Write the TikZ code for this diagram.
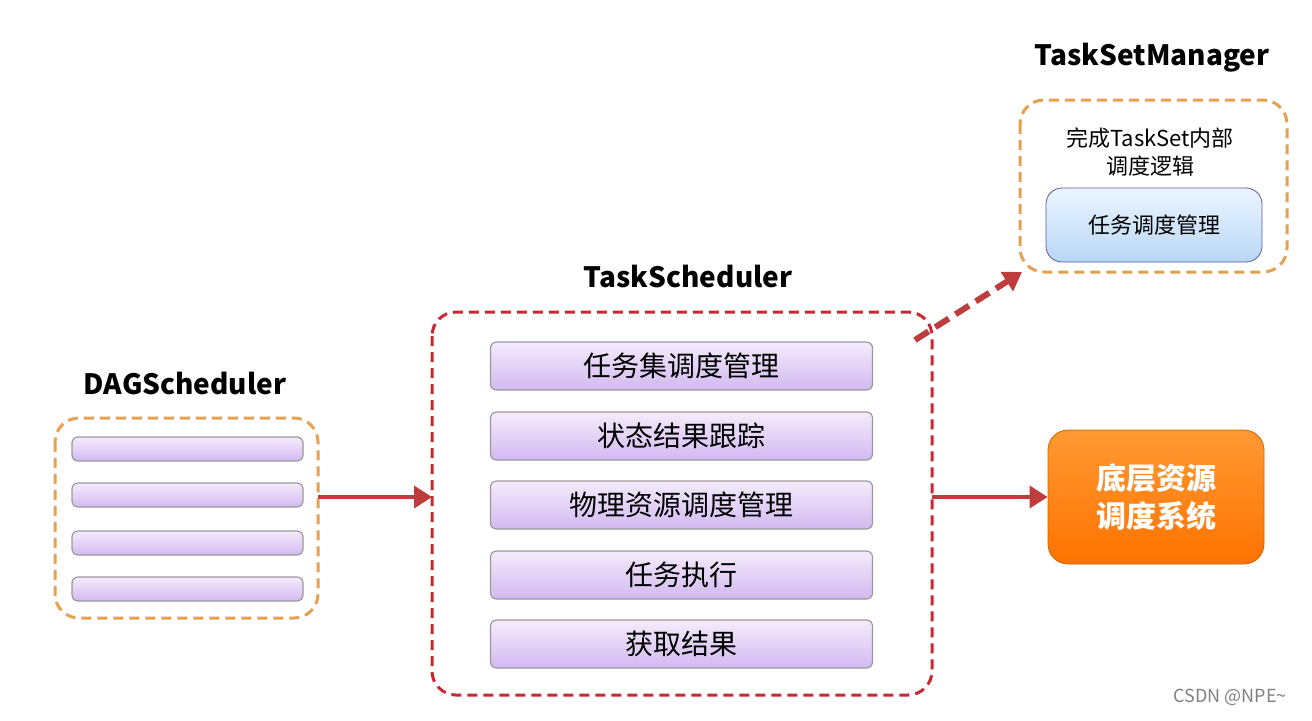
\documentclass[tikz,border=0pt]{standalone}
\usepackage{fontspec}
\setmainfont{Noto Sans CJK SC}
\usetikzlibrary{arrows.meta}
\definecolor{dorange}{RGB}{230,160,80}
\definecolor{dred}{RGB}{200,40,50}
\definecolor{arr}{RGB}{190,60,60}
\definecolor{ltop}{RGB}{245,235,252}
\definecolor{lbot}{RGB}{210,185,240}
\definecolor{btop}{RGB}{235,245,255}
\definecolor{bbot}{RGB}{185,215,245}
\tikzset{
 dbox/.style={draw=dorange,dashed,line width=1.5pt,rounded corners=12pt,dash pattern=on 5pt off 3pt},
 bar/.style={draw=gray!80,rounded corners=3pt,top color=ltop,bottom color=lbot,line width=0.6pt},
 title/.style={font=\fontsize{14}{16}\selectfont\bfseries},
 btxt/.style={font=\fontsize{14}{16}\selectfont},
 harr/.style={draw=arr,line width=2pt,-{Triangle[length=9pt,width=11pt]}}
}
\begin{document}
\begin{tikzpicture}[x=0.5pt,y=-0.5pt]
\useasboundingbox (0,0) rectangle (1312,720);
\node[title] at (185,383) {DAGScheduler};
\node[title] at (688,276) {TaskScheduler};
\node[title] at (1152,58) {TaskSetManager};
\draw[dbox] (55,418) rectangle (318,618);
\coordinate (dagr) at (318,497);
\foreach \y in {437,483,531,577} \draw[bar] (72,\y) rectangle (303,\y+24);
\draw[dbox,draw=dred] (432,312) rectangle (932,695);
\coordinate (tsl) at (432,497); \coordinate (tsr) at (932,497);
\foreach \y/\t in {342/任务集调度管理,412/状态结果跟踪,481/物理资源调度管理,551/任务执行,620/获取结果}
  \node[bar,minimum width=191pt,minimum height=24pt,btxt] at (681.5,\y+24) {\t};
\node[draw=orange!80!black,rounded corners=10pt,minimum width=108pt,minimum height=67pt,
  top color=orange!80,bottom color=orange!90!red,text=white,font=\fontsize{15}{19}\selectfont\bfseries,align=center]
  (sys) at (1156,497) {底层资源\\调度系统};
\draw[dbox] (1020,100) rectangle (1287,272);
\coordinate (tsm) at (1022,272);
\node[font=\fontsize{11}{14}\selectfont,align=center] at (1150,152) {完成TaskSet内部\\调度逻辑};
\node[draw=gray!70!blue,rounded corners=8pt,minimum width=108pt,minimum height=37pt,
  top color=btop,bottom color=bbot,font=\fontsize{11}{13}\selectfont] at (1154,225) {任务调度管理};
\draw[harr] (dagr) -- (tsl);
\draw[harr] (tsr) -- (sys.west);
\coordinate (ds) at (915,340);
\draw[harr,line width=3pt,dash pattern=on 8pt off 4pt] (ds) -- (tsm);
\node[text=gray,font=\fontsize{9}{11}\selectfont] at (1230,697) {CSDN @NPE\textasciitilde};
\end{tikzpicture}
\end{document}
